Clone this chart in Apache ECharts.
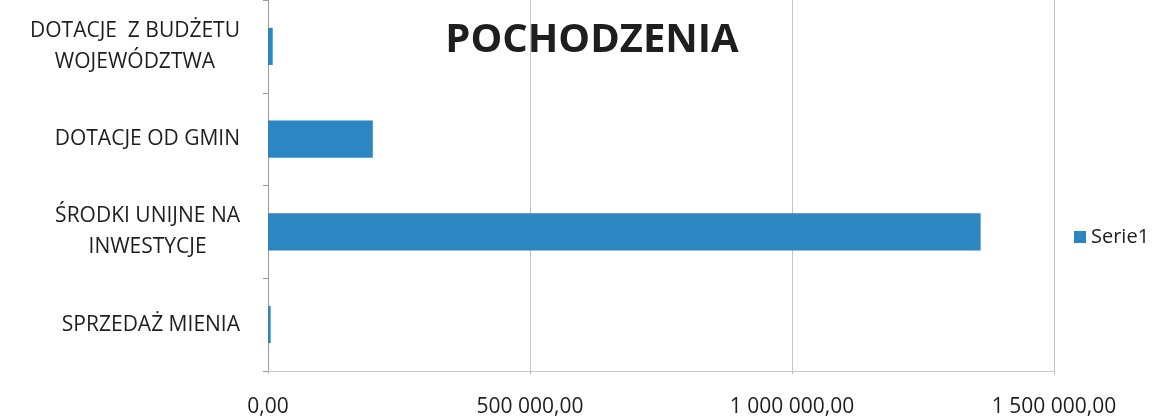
<!DOCTYPE html>
<html>
<head>
<meta charset="utf-8">
<title>POCHODZENIA</title>
<script src="https://cdn.jsdelivr.net/npm/echarts@6/dist/echarts.min.js"></script>
<style>
  html, body { margin: 0; padding: 0; background: #fff; }
  #chartsContent { width: 1166px; height: 418px; }
</style>
</head>
<body>
<div id="chartsContent"></div>
<script>
var categories = ['SPRZEDAŻ MIENIA', 'ŚRODKI UNIJNE NA\nINWESTYCJE', 'DOTACJE OD GMIN', 'DOTACJE  Z BUDŻETU\nWOJEWÓDZTWA']
var serie1 = [5000, 1360000, 200000, 9000]
var xTicks = [0, 500000, 1000000, 1500000]

function fmt (v) {
  var s = Math.round(v).toString().replace(/\B(?=(\d{3})+(?!\d))/g, ' ')
  return s + ',00'
}

var dom = document.getElementById('chartsContent')
var myChart = echarts.init(dom)
var option = {
  animation: false,
  title: {
    text: 'POCHODZENIA',
    left: 587,
    top: 16,
    textAlign: 'center',
    textStyle: {
      fontFamily: 'Open Sans',
      fontWeight: 'bold',
      fontSize: 40,
      color: '#1e1e1e'
    }
  },
  legend: {
    data: ['Serie1'],
    orient: 'vertical',
    left: 1074,
    top: 227,
    padding: 0,
    itemWidth: 12,
    itemHeight: 12,
    icon: 'rect',
    textStyle: {
      fontFamily: 'Open Sans',
      fontSize: 20,
      color: '#1e1e1e'
    }
  },
  grid: {
    left: 268,
    right: 112,
    top: -4,
    bottom: 46
  },
  xAxis: {
    type: 'value',
    min: xTicks[0],
    max: xTicks[xTicks.length - 1],
    interval: 500000,
    axisLine: { show: true, lineStyle: { color: '#c8c8c8' } },
    axisTick: { show: true, length: 3, lineStyle: { color: '#bbb' } },
    splitLine: { show: true, lineStyle: { color: '#c4c4c4', width: 1 } },
    axisLabel: {
      margin: 26,
      fontFamily: 'Open Sans',
      fontSize: 21,
      color: '#1e1e1e',
      formatter: function (v) { return fmt(v) }
    }
  },
  yAxis: {
    type: 'category',
    data: categories,
    axisLine: { show: true, lineStyle: { color: '#999' } },
    axisTick: { show: true, length: 5, lineStyle: { color: '#999' } },
    axisLabel: {
      margin: 28,
      align: 'right',
      color: '#1e1e1e',
      formatter: function (v) {
        return v.split('\n').map(function (l) { return '{a|' + l + '}' }).join('\n')
      },
      rich: {
        a: {
          align: 'center',
          fontFamily: 'Open Sans',
          fontSize: 21,
          lineHeight: 31,
          color: '#1e1e1e'
        }
      }
    }
  },
  series: [
    {
      name: 'Serie1',
      type: 'bar',
      data: serie1,
      barWidth: '40%',
      itemStyle: { color: '#2b86c2' }
    }
  ]
}
myChart.setOption(option, true)
</script>
</body>
</html>
